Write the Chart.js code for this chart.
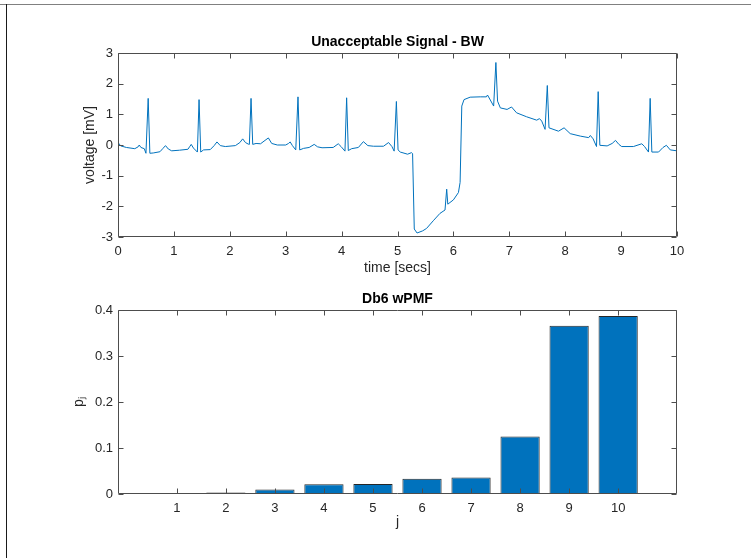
<!DOCTYPE html>
<html>
<head>
<meta charset="utf-8">
<script src="https://cdn.jsdelivr.net/npm/chart.js@4.4.1/dist/chart.umd.min.js"></script>
<style>
body { margin: 0; background: #fff; }
#wrap { position: relative; width: 751px; height: 558px; overflow: hidden; background: #fff; }
#sig, #pmf { position: absolute; left: 0; }
#sig { top: 0; }
#pmf { top: 290px; }
.frameTop { position: absolute; left: 0; top: 4px; width: 751px; height: 1px; background: #808080; }
.frameLeft { position: absolute; left: 6px; top: 4px; width: 1px; height: 554px; background: #1a1a1a; }
</style>
</head>
<body>
<div id="wrap">
  <canvas id="sig" width="751" height="290"></canvas>
  <canvas id="pmf" width="751" height="268"></canvas>
  <div class="frameTop"></div>
  <div class="frameLeft"></div>
</div>
<script>
// ECG trace (secs / mV)
var time = [
  0.00,0.05,0.15,0.30,0.36,0.38,0.41,0.47,0.50,0.54,0.57,0.63,0.75,0.80,0.85,0.90,0.96,
  1.10,1.25,1.28,1.31,1.35,1.42,1.45,1.48,1.53,1.65,1.72,1.77,1.83,1.92,
  2.10,2.18,2.23,2.28,2.33,2.35,2.38,2.41,2.47,2.55,2.63,2.69,2.75,2.85,3.00,
  3.05,3.08,3.12,3.18,3.22,3.25,3.32,3.42,3.51,3.57,3.65,3.85,
  3.94,3.99,4.06,4.09,4.12,4.18,4.30,4.39,4.47,4.57,4.75,
  4.84,4.90,4.94,4.98,5.01,5.05,5.18,5.25,5.27,
  5.30,5.35,5.45,5.52,5.64,5.76,5.85,5.88,5.90,6.00,6.09,6.12,
  6.15,6.19,6.30,6.48,6.59,6.61,6.65,6.72,6.76,6.79,6.84,6.96,7.04,
  7.13,7.31,7.49,7.54,7.58,7.64,7.68,7.71,7.88,7.98,8.09,
  8.27,8.42,8.45,8.50,8.56,8.59,8.62,8.75,8.84,8.90,8.96,9.01,
  9.22,9.37,9.42,9.49,9.52,9.55,9.67,9.75,9.81,9.88,10.00
];
var voltage = [
  0.08,-0.03,-0.08,-0.12,-0.06,0.00,-0.08,-0.12,-0.27,1.52,-0.27,-0.26,-0.22,-0.12,-0.02,-0.13,-0.19,
  -0.17,-0.14,-0.06,0.02,-0.10,-0.23,1.48,-0.23,-0.16,-0.15,-0.02,0.10,-0.02,-0.05,
  -0.02,0.08,0.20,0.08,0.03,0.02,1.52,0.02,0.05,0.04,0.15,0.23,0.05,0.00,0.00,
  0.05,0.10,-0.02,-0.16,1.57,-0.16,-0.11,-0.08,0.02,-0.06,-0.09,-0.08,
  0.04,-0.05,-0.20,1.54,-0.18,-0.12,-0.08,0.11,-0.02,-0.04,-0.04,
  0.08,-0.05,-0.20,1.42,-0.16,-0.23,-0.30,-0.25,-0.28,
  -2.74,-2.87,-2.80,-2.72,-2.47,-2.23,-2.12,-1.44,-1.93,-1.79,-1.55,-1.22,
  1.27,1.48,1.56,1.57,1.57,1.63,1.50,1.27,2.69,1.43,1.21,1.16,1.24,
  1.05,0.92,0.81,0.86,0.78,0.51,1.94,0.56,0.45,0.56,0.37,
  0.29,0.24,0.31,0.20,-0.05,1.74,-0.01,-0.03,0.05,0.15,0.02,-0.05,
  -0.05,0.04,-0.05,-0.23,1.52,-0.23,-0.23,-0.08,-0.01,-0.16,-0.19
];

// wavelet packet PMF per level j
var levels = [1,2,3,4,5,6,7,8,9,10];
var pmf = [0.001,0.003,0.010,0.021,0.022,0.033,0.036,0.125,0.366,0.387];

var FONT = '"Liberation Sans", Arial, Helvetica, sans-serif';
var AXIS = '#262626';

// matlab style box with inward ticks on all four sides
var boxTicks = {
  id: 'boxTicks',
  afterDatasetsDraw: function(chart) {
    var ctx = chart.ctx, a = chart.chartArea;
    var xs = chart.scales.x, ys = chart.scales.y;
    var L = Math.round(a.left) + 0.5, R = Math.round(a.right) - 0.5;
    var T = Math.round(a.top) + 0.5, B = Math.round(a.bottom) - 0.5;
    var tl = 5;
    ctx.save();
    ctx.strokeStyle = '#4d4d4d';
    ctx.lineWidth = 1;
    ctx.beginPath();
    ctx.rect(L, T, R - L, B - T);
    xs.ticks.forEach(function(t) {
      var p = Math.round(xs.getPixelForValue(t.value)) + 0.5;
      ctx.moveTo(p, B); ctx.lineTo(p, B - tl);
      ctx.moveTo(p, T); ctx.lineTo(p, T + tl);
    });
    ys.ticks.forEach(function(t) {
      var p = Math.round(ys.getPixelForValue(t.value)) + 0.5;
      ctx.moveTo(L, p); ctx.lineTo(L + tl, p);
      ctx.moveTo(R, p); ctx.lineTo(R - tl, p);
    });
    ctx.stroke();
    ctx.restore();
  }
};

Chart.defaults.font.family = FONT;
Chart.defaults.font.size = 13;
Chart.defaults.color = AXIS;

var noGrid = { display: false, drawTicks: false };
var sigPts = time.map(function(t, i) { return { x: t, y: voltage[i] }; });

new Chart(document.getElementById('sig'), {
  type: 'line',
  data: {
    datasets: [{
      data: sigPts,
      borderColor: '#0072BD',
      borderWidth: 1,
      pointRadius: 0,
      tension: 0,
      fill: false
    }]
  },
  options: {
    responsive: false,
    animation: false,
    devicePixelRatio: 1,
    layout: { padding: { left: 0, right: 74, top: 0, bottom: 0 } },
    plugins: {
      legend: { display: false },
      tooltip: { enabled: false },
      title: {
        display: true,
        text: 'Unacceptable Signal - BW',
        fullSize: false,
        color: '#000',
        font: { size: 14, weight: 'bold' },
        padding: { top: 33.6, bottom: 2.6 }
      }
    },
    scales: {
      x: {
        type: 'linear', min: 0, max: 10,
        grid: noGrid, border: { display: false },
        ticks: { stepSize: 1, padding: 7, maxRotation: 0, autoSkip: false },
        title: { display: true, text: 'time [secs]', font: { size: 14 }, padding: { top: 0, bottom: 13.6 } },
        afterFit: function(s) { s.height = 53; }
      },
      y: {
        type: 'linear', min: -3, max: 3,
        grid: noGrid, border: { display: false },
        ticks: { stepSize: 1, padding: 5 },
        title: { display: true, text: 'voltage [mV]', font: { size: 14 }, padding: { top: 81.6, bottom: 0 } },
        afterFit: function(s) { s.width = 118; }
      }
    }
  },
  plugins: [boxTicks]
});

var barPts = levels.map(function(j, i) { return { x: j, y: pmf[i] }; });

new Chart(document.getElementById('pmf'), {
  type: 'bar',
  data: {
    datasets: [{
      data: barPts,
      backgroundColor: '#0072BD',
      borderColor: 'rgba(0,0,0,0.85)',
      borderWidth: 1,
      barPercentage: 0.8,
      categoryPercentage: 1.0
    }]
  },
  options: {
    responsive: false,
    animation: false,
    devicePixelRatio: 1,
    layout: { padding: { left: 0, right: 74, top: 0, bottom: 0 } },
    plugins: {
      legend: { display: false },
      tooltip: { enabled: false },
      title: {
        display: true,
        text: 'Db6 wPMF',
        fullSize: false,
        color: '#000',
        font: { size: 14, weight: 'bold' },
        padding: { top: 0.6, bottom: 2.6 }
      }
    },
    scales: {
      x: {
        type: 'linear', min: -0.2, max: 11.2, offset: false,
        grid: noGrid, border: { display: false },
        ticks: { padding: 7, maxRotation: 0, autoSkip: false },
        afterBuildTicks: function(s) { s.ticks = levels.map(function(j) { return { value: j }; }); },
        title: { display: true, text: 'j', font: { size: 14 }, padding: { top: 0, bottom: 27.6 } },
        afterFit: function(s) { s.height = 64; }
      },
      y: {
        type: 'linear', min: 0, max: 0.4,
        grid: noGrid, border: { display: false },
        ticks: { stepSize: 0.1, padding: 5 },
        title: { display: true, text: 'p\u2C7C', font: { size: 14 }, padding: { top: 70.6, bottom: 0 } },
        afterFit: function(s) { s.width = 118; }
      }
    }
  },
  plugins: [boxTicks]
});
</script>
</body>
</html>
